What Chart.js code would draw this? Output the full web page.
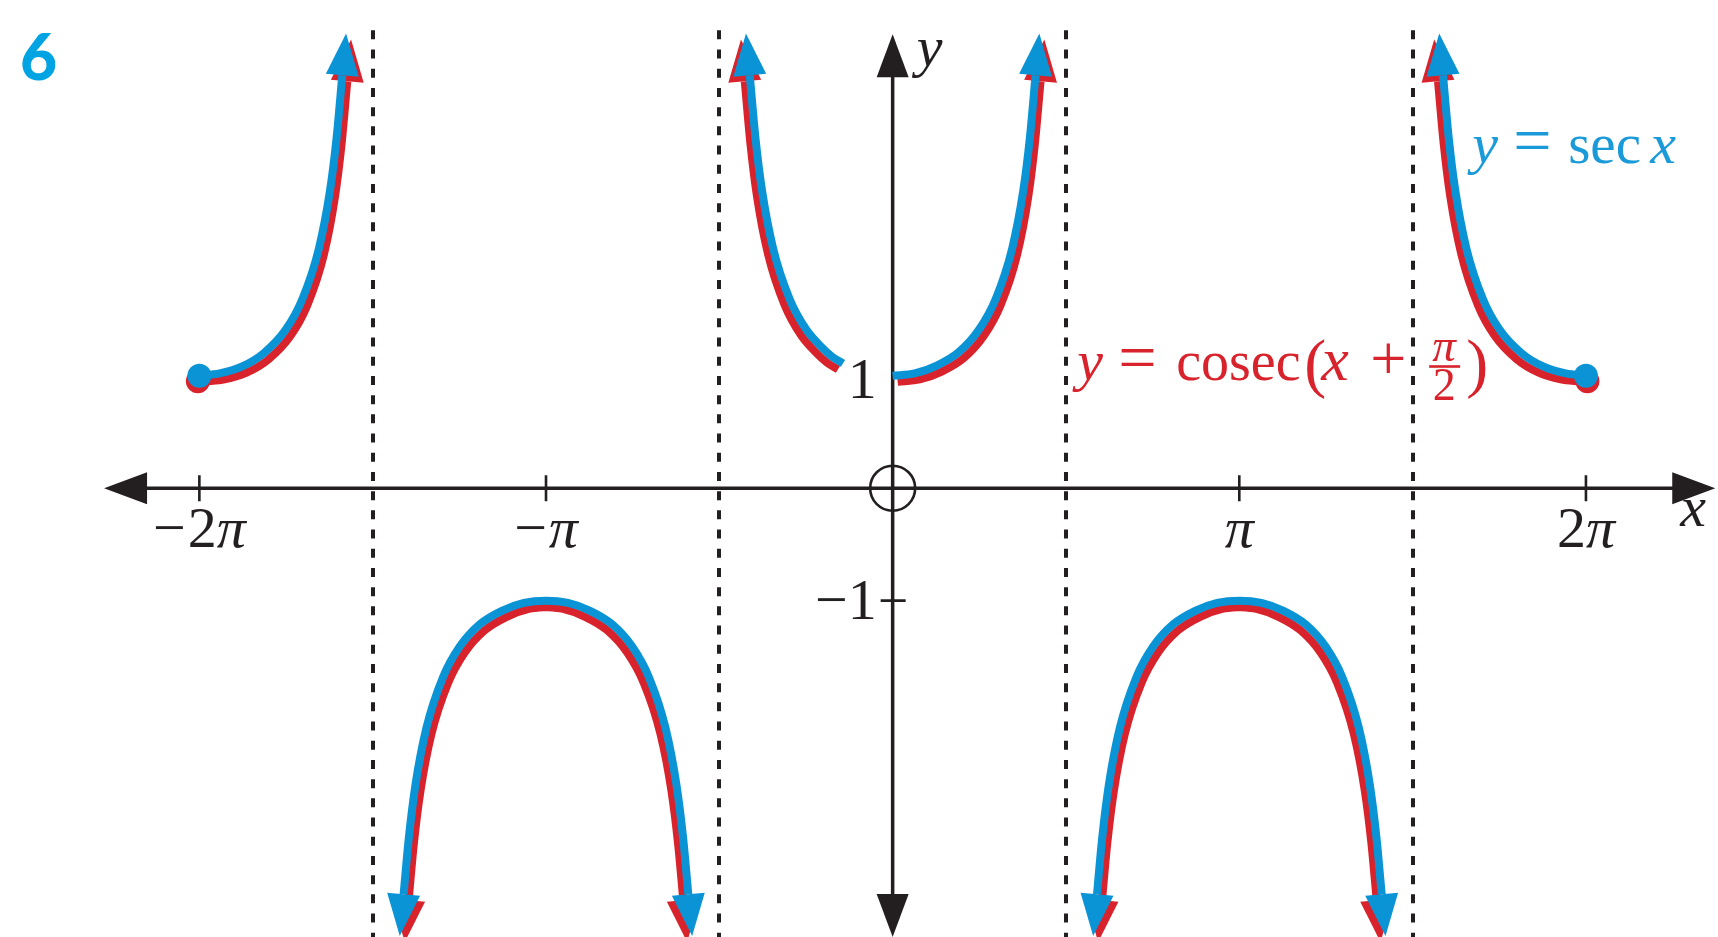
<!DOCTYPE html>
<html>
<head>
<meta charset="utf-8">
<title>y = sec x and y = cosec(x + π/2)</title>
<style>
  html, body { margin: 0; padding: 0; background: #ffffff; }
  #wrap { width: 1718px; height: 937px; }
</style>
<script src="https://cdn.jsdelivr.net/npm/chart.js@4.4.1/dist/chart.umd.min.js"></script>
</head>
<body>
<div id="wrap"><canvas id="graph" width="1718" height="937"></canvas></div>
<script>
// ---- curve samples (x in radians) ----
// branch from x = -2π up towards the asymptote x = -3π/2
const leftUpX  = [-6.283, -6.100, -5.900, -5.700, -5.500, -5.350, -5.200, -5.100, -5.040, -4.988];
const leftUpY  = [1.00, 1.02, 1.08, 1.20, 1.41, 1.68, 2.13, 2.64, 3.11, 3.67];
// centre branch, left of the y-axis (stops short of the "1" label)
const centreLeftX = [-1.295, -1.243, -1.183, -1.083, -0.933, -0.783, -0.650, -0.550, -0.450];
const centreLeftY = [3.67, 3.11, 2.64, 2.13, 1.68, 1.41, 1.26, 1.17, 1.11];
// centre branch, right of the y-axis
const centreRightX = [0, 0.200, 0.400, 0.600, 0.783, 0.933, 1.083, 1.183, 1.243, 1.295];
const centreRightY = [1.00, 1.02, 1.09, 1.21, 1.41, 1.68, 2.13, 2.64, 3.11, 3.67];
// branch coming down from the asymptote x = 3π/2 to x = 2π
const rightUpX = [4.988, 5.040, 5.100, 5.200, 5.350, 5.500, 5.700, 5.900, 6.100, 6.283];
const rightUpY = [3.67, 3.11, 2.64, 2.13, 1.68, 1.41, 1.20, 1.08, 1.02, 1.00];
// lower arches around x = -π and x = π
const archNegX = [-4.432, -4.385, -4.325, -4.225, -4.075, -3.925, -3.742, -3.542, -3.342, -3.142,
                  -2.942, -2.742, -2.542, -2.359, -2.209, -2.059, -1.959, -1.899, -1.852];
const archPosX = [1.852, 1.899, 1.959, 2.059, 2.209, 2.359, 2.542, 2.742, 2.942, 3.142,
                  3.342, 3.542, 3.742, 3.925, 4.075, 4.225, 4.325, 4.385, 4.432];
const archY    = [-3.61, -3.11, -2.64, -2.13, -1.68, -1.41, -1.21, -1.09, -1.02, -1.00,
                  -1.02, -1.09, -1.21, -1.41, -1.68, -2.13, -2.64, -3.11, -3.61];

// ---- axes furniture ----
const xTickValues = [-2 * Math.PI, -Math.PI, Math.PI, 2 * Math.PI];
const xTickNumerals = ['\u22122', '\u2212', '', '2'];
const yTickValues = [1, -1];
const yTickLabels = ['1', '\u22121'];
const asymptoteX  = [-1.5 * Math.PI, -0.5 * Math.PI, 0.5 * Math.PI, 1.5 * Math.PI];

const INK  = '#231f20';
const BLUE = '#0a94d6';
const RED  = '#d8232c';

// first installed serif face from a short list (falls back to the generic family)
function pickSerif(candidates) {
  const c = document.createElement('canvas').getContext('2d');
  const sample = 'mmmmmmmmmmlli1WQ0123456789abcdefxyz';
  c.font = '40px monospace';
  const mono = c.measureText(sample).width;
  c.font = '40px sans-serif';
  const sans = c.measureText(sample).width;
  for (const f of candidates) {
    c.font = '40px "' + f + '", monospace';
    const w = c.measureText(sample).width;
    if (Math.abs(w - mono) > 0.5 && Math.abs(w - sans) > 0.5) return '"' + f + '", serif';
  }
  return 'serif';
}
const SERIF = pickSerif(['Liberation Serif', 'Tinos', 'Times New Roman', 'Nimbus Roman', 'DejaVu Serif', 'Noto Serif']);

const view = { xMin: -8.09, xMax: 7.48, yMin: -3.99, yMax: 4.34 };
const axisReach = { xLeft: -7.147, xRight: 7.455, yTop: 4.036, yBottom: -3.99, asymTop: 4.07 };

function pairs(xs, ys) { return xs.map((x, i) => ({ x: x, y: ys[i] })); }

// each branch: blue curve on top, red curve as an offset companion underneath
const branches = [
  { xs: leftUpX,      ys: leftUpY,      arrowEnd: true,  dot: 0, lean: 1 },
  { xs: centreLeftX,  ys: centreLeftY,  arrowStart: true,        lean: -1 },
  { xs: centreRightX, ys: centreRightY, arrowEnd: true,          lean: 1 },
  { xs: rightUpX,     ys: rightUpY,     arrowStart: true, dot: rightUpX.length - 1, lean: -1 },
  { xs: archNegX,     ys: archY,        arrowStart: true, arrowEnd: true, apex: 9 },
  { xs: archPosX,     ys: archY,        arrowStart: true, arrowEnd: true, apex: 9 }
];

function lineSet(data, colour, order, extra) {
  return Object.assign({
    data: data,
    showLine: true,
    borderColor: colour,
    backgroundColor: colour,
    borderWidth: 8,
    borderCapStyle: 'butt',
    borderJoinStyle: 'round',
    cubicInterpolationMode: 'monotone',
    pointRadius: 0,
    pointBorderWidth: 0,
    pointBackgroundColor: colour,
    fill: false,
    clip: false,
    order: order
  }, extra);
}

const datasets = [];
branches.forEach(b => {
  const data = pairs(b.xs, b.ys);
  const dotIdx = b.dot;
  datasets.push(lineSet(data, BLUE, 0, {
    arrowStart: !!b.arrowStart, arrowEnd: !!b.arrowEnd,
    pointRadius: c => (dotIdx !== undefined && c.dataIndex === dotIdx ? 12 : 0)
  }));
  if (b.apex !== undefined) {
    datasets.push(lineSet(data.slice(0, b.apex + 1), RED, 1, { arrowStart: true, shift: [5, 6] }));
    datasets.push(lineSet(data.slice(b.apex), RED, 1, { arrowEnd: true, shift: [-5, 6] }));
  } else {
    datasets.push(lineSet(data, RED, 1, {
      arrowStart: !!b.arrowStart, arrowEnd: !!b.arrowEnd,
      shift: [5 * b.lean, 6], redDot: dotIdx, redDotShift: [-1.5 * b.lean, 5.5]
    }));
  }
});

function arrowHead(ctx, tipX, tipY, ux, uy, len, half) {
  const bx = tipX - ux * len, by = tipY - uy * len;
  ctx.beginPath();
  ctx.moveTo(tipX, tipY);
  ctx.lineTo(bx - uy * half, by + ux * half);
  ctx.lineTo(bx + uy * half, by - ux * half);
  ctx.closePath();
  ctx.fill();
}

// arrowhead continuing the curve beyond its end point p (q is the neighbouring point)
function curveArrow(ctx, p, q) {
  let dx = p.x - q.x, dy = p.y - q.y;
  const d = Math.hypot(dx, dy) || 1;
  dx /= d; dy /= d;
  const len = 42;
  arrowHead(ctx, p.x + dx * len, p.y + dy * len, dx, dy, len, 16.5);
}

const curveDecor = {
  id: 'curveDecor',
  beforeDatasetDraw(chart, args) {
    const ds = chart.data.datasets[args.index];
    chart.ctx.save();
    if (ds.shift) chart.ctx.translate(ds.shift[0], ds.shift[1]);
  },
  afterDatasetDraw(chart, args) {
    const ds = chart.data.datasets[args.index];
    const ctx = chart.ctx;
    const pts = args.meta.data;
    const n = pts.length;
    ctx.fillStyle = ds.borderColor;
    if (ds.arrowStart) curveArrow(ctx, pts[0], pts[1]);
    if (ds.arrowEnd) curveArrow(ctx, pts[n - 1], pts[n - 2]);
    ctx.restore();
    if (ds.redDot !== undefined) {
      const p = pts[ds.redDot];
      ctx.beginPath();
      ctx.arc(p.x + ds.redDotShift[0], p.y + ds.redDotShift[1], 12, 0, Math.PI * 2);
      ctx.fillStyle = ds.borderColor;
      ctx.fill();
    }
  }
};

function textRun(ctx, x0, y0, parts, colour) {
  ctx.fillStyle = colour;
  ctx.textBaseline = 'alphabetic';
  parts.forEach(p => {
    ctx.font = p.font;
    ctx.textAlign = p.align || 'left';
    ctx.fillText(p.t, x0 + p.dx, y0 + (p.dy || 0));
  });
}

const axesDecor = {
  id: 'axesDecor',
  beforeDatasetsDraw(chart) {
    const ctx = chart.ctx;
    const sx = chart.scales.x, sy = chart.scales.y;
    const X = v => sx.getPixelForValue(v), Y = v => sy.getPixelForValue(v);
    const x0 = X(0), y0 = Y(0);
    ctx.save();

    // vertical asymptotes
    ctx.strokeStyle = INK;
    ctx.lineWidth = 4;
    ctx.setLineDash([9, 10.2]);
    asymptoteX.forEach(a => {
      const px = Math.round(X(a));
      ctx.beginPath();
      ctx.moveTo(px, Y(axisReach.asymTop));
      ctx.lineTo(px, Y(view.yMin) + 2);
      ctx.stroke();
    });
    ctx.setLineDash([]);

    // axes with arrowheads
    const L = 43, H = 16;
    const xl = X(axisReach.xLeft), xr = X(axisReach.xRight);
    const yt = Y(axisReach.yTop), yb = Y(axisReach.yBottom);
    ctx.lineWidth = 3.5;
    ctx.beginPath();
    ctx.moveTo(xl + L - 2, y0); ctx.lineTo(xr - L + 2, y0);
    ctx.moveTo(x0, yt + L - 2); ctx.lineTo(x0, yb - L + 2);
    ctx.stroke();
    ctx.fillStyle = INK;
    arrowHead(ctx, xl, y0, -1, 0, L, H);
    arrowHead(ctx, xr, y0, 1, 0, L, H);
    arrowHead(ctx, x0, yt, 0, -1, L, H);
    arrowHead(ctx, x0, yb, 0, 1, L, H);

    // tick marks
    ctx.lineWidth = 2.6;
    ctx.beginPath();
    xTickValues.forEach(v => { const px = X(v); ctx.moveTo(px, y0 - 13); ctx.lineTo(px, y0 + 13); });
    ctx.moveTo(x0 - 12, Y(-1)); ctx.lineTo(x0 + 13, Y(-1));
    ctx.stroke();

    // origin marker
    ctx.beginPath();
    ctx.arc(x0, y0, 22.5, 0, Math.PI * 2);
    ctx.stroke();

    // x tick labels: upright numerals, italic π, centred under each tick
    ctx.fillStyle = INK;
    ctx.textBaseline = 'alphabetic';
    ctx.textAlign = 'left';
    const upright = '58px ' + SERIF, italic = 'italic 58px ' + SERIF;
    xTickValues.forEach((v, i) => {
      const num = xTickNumerals[i];
      ctx.font = upright;
      const hasMinus = num.startsWith('\u2212');
      const digits = hasMinus ? num.slice(1) : num;
      const wMinus = hasMinus ? ctx.measureText('\u2212').width + 2 : 0;
      const wDigits = ctx.measureText(digits).width;
      ctx.font = italic;
      const wPi = ctx.measureText('\u03c0').width;
      let cx = X(v) - (wMinus + wDigits + wPi) / 2;
      ctx.font = upright;
      if (hasMinus) ctx.fillText('\u2212', cx, y0 + 59);
      cx += wMinus;
      if (digits) ctx.fillText(digits, cx, y0 + 59);
      cx += wDigits;
      ctx.font = italic;
      ctx.fillText('\u03c0', cx, y0 + 59);
    });
    ctx.font = upright;
    ctx.textAlign = 'right';
    yTickValues.forEach((v, i) => {
      ctx.fillText(yTickLabels[i], x0 - 16, Y(v) + (v > 0 ? 22 : 18));
    });
    ctx.font = italic;
    ctx.textAlign = 'center';
    ctx.fillText('x', X(axisReach.xRight) - 22, y0 + 38);
    ctx.textAlign = 'left';
    ctx.fillText('y', x0 + 24, yt + 32);
    ctx.restore();
  },
  afterDatasetsDraw(chart) {
    const ctx = chart.ctx;
    const sx = chart.scales.x, sy = chart.scales.y;
    ctx.save();
    // y = sec x
    textRun(ctx, sx.getPixelForValue(5.252), sy.getPixelForValue(2.889), [
      { t: 'y', font: 'italic 58px ' + SERIF, dx: 0 },
      { t: '=', font: '68px ' + SERIF, dx: 41 },
      { t: 'sec', font: '57px ' + SERIF, dx: 96 },
      { t: 'x', font: 'italic 58px ' + SERIF, dx: 178 }
    ], '#1a9ad8');
    // y = cosec(x + π/2)
    const rx = sx.getPixelForValue(1.672), ry = sy.getPixelForValue(0.96);
    textRun(ctx, rx, ry, [
      { t: 'y', font: 'italic 58px ' + SERIF, dx: 0 },
      { t: '=', font: '68px ' + SERIF, dx: 41 },
      { t: 'cosec', font: '56px ' + SERIF, dx: 99 },
      { t: '(', font: '66px ' + SERIF, dx: 227, dy: 5 },
      { t: 'x', font: 'italic 62px ' + SERIF, dx: 244 },
      { t: '+', font: '64px ' + SERIF, dx: 293 },
      { t: '\u03c0', font: 'italic 47px ' + SERIF, dx: 367, dy: -19, align: 'center' },
      { t: '2', font: '46px ' + SERIF, dx: 367, dy: 20, align: 'center' },
      { t: ')', font: '66px ' + SERIF, dx: 389, dy: 5 }
    ], RED);
    ctx.fillStyle = RED;
    ctx.fillRect(rx + 352, ry - 15, 31, 2.6);
    // question number
    ctx.fillStyle = '#00a4e2';
    ctx.font = '900 64px Lato, "Open Sans", sans-serif';
    ctx.textAlign = 'left';
    ctx.fillText('6', 20, 80);
    ctx.restore();
  }
};

new Chart(document.getElementById('graph'), {
  type: 'scatter',
  data: { datasets: datasets },
  options: {
    responsive: false,
    devicePixelRatio: 1,
    animation: false,
    events: [],
    layout: { padding: 0, autoPadding: false },
    plugins: { legend: { display: false }, tooltip: { enabled: false } },
    scales: {
      x: { type: 'linear', min: view.xMin, max: view.xMax, display: false },
      y: { type: 'linear', min: view.yMin, max: view.yMax, display: false }
    }
  },
  plugins: [axesDecor, curveDecor]
});
</script>
</body>
</html>
